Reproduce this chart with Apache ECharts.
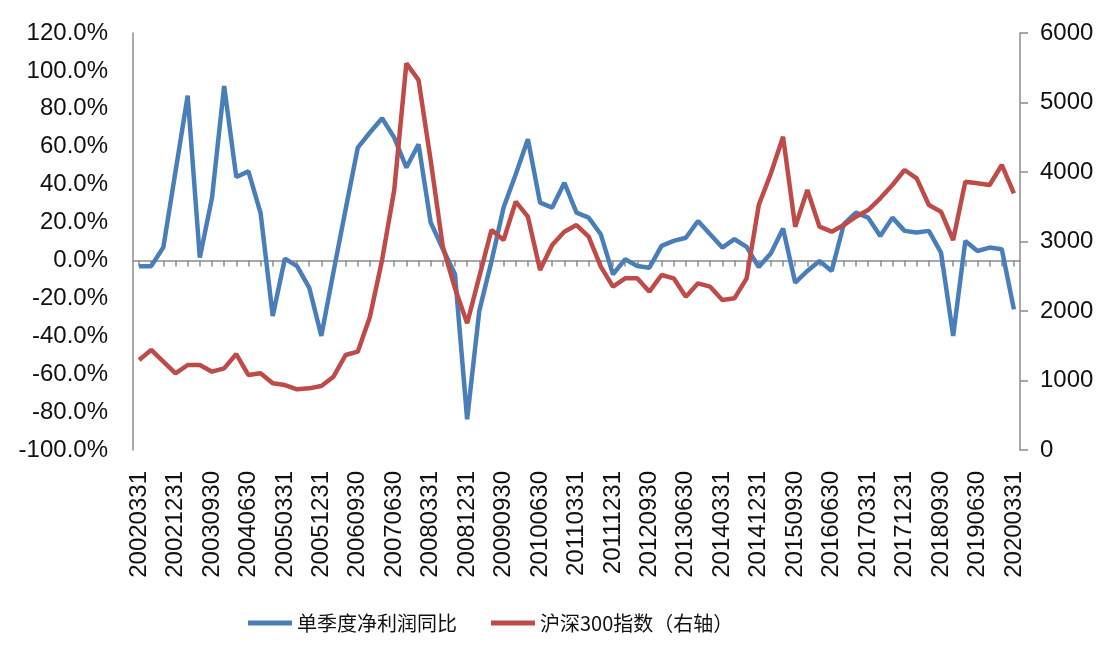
<!DOCTYPE html>
<html>
<head>
<meta charset="utf-8">
<script src="https://cdn.jsdelivr.net/npm/echarts@6/dist/echarts.min.js"></script>
<style>
html,body{margin:0;padding:0;background:#fff;}
#c{width:1113px;height:648px;}
</style>
</head>
<body>
<div id="c"></div>
<script>
const categories = [
 '20020331','20020630','20020930','20021231','20030331','20030630','20030930','20031231',
 '20040331','20040630','20040930','20041231','20050331','20050630','20050930','20051231',
 '20060331','20060630','20060930','20061231','20070331','20070630','20070930','20071231',
 '20080331','20080630','20080930','20081231','20090331','20090630','20090930','20091231',
 '20100331','20100630','20100930','20101231','20110331','20110630','20110930','20111231',
 '20120331','20120630','20120930','20121231','20130331','20130630','20130930','20131231',
 '20140331','20140630','20140930','20141231','20150331','20150630','20150930','20151231',
 '20160331','20160630','20160930','20161231','20170331','20170630','20170930','20171231',
 '20180331','20180630','20180930','20181231','20190331','20190630','20190930','20191231',
 '20200331'
];
// 单季度净利润同比 (%)
const profitYoY = [
 -3, -3, 7, 47, 87, 1.5, 33, 92, 44, 47, 25, -29.3,
 1, -3, -14.3, -39.8, -6, 27, 59.5, 67.5, 75, 64.8, 49, 61.3,
 20, 6, -7.3, -83.8, -26.6, -0.5, 27.9, 45.5, 64, 30.5, 27.9, 41,
 25.2, 22.6, 13.8, -7.3, 0.6, -2.9, -3.8, 7.7, 10.3, 12, 20.8, 13.8,
 6.8, 11.2, 7.2, -3.5, 3.8, 16.8, -11.7, -5.5, -0.3, -5.5, 19.1, 25.2,
 22.6, 12.9, 22.6, 15.6, 14.7, 15.6, 4.1, -39.8, 10.3, 5, 6.8, 5.9,
 -25.8
];
// 沪深300指数
const csi300 = [
 1295, 1439, 1271, 1103, 1223, 1223, 1127, 1175, 1381, 1079, 1103, 959,
 935, 873, 887, 921, 1055, 1367, 1415, 1918, 2734, 3741, 5564, 5324,
 4168, 2925, 2326, 1823, 2494, 3165, 3021, 3573, 3357, 2590, 2950, 3141,
 3237, 3070, 2638, 2350, 2470, 2470, 2278, 2518, 2470, 2206, 2398, 2350,
 2158, 2182, 2470, 3525, 3981, 4508, 3213, 3741, 3213, 3141, 3237, 3357,
 3453, 3621, 3813, 4029, 3909, 3525, 3429, 3021, 3861, 3837, 3813, 4101,
 3693
];
const seriesNames = ['单季度净利润同比', '沪深300指数（右轴）'];

const FONT = 'Arial, "Liberation Sans", "Noto Sans CJK SC", sans-serif';
const chart = echarts.init(document.getElementById('c'), null, {renderer: 'canvas'});
chart.setOption({
  animation: false,
  backgroundColor: '#ffffff',
  grid: {left: 133, right: 93, top: 33, bottom: 198, containLabel: false},
  legend: {
    data: seriesNames,
    left: 243,
    top: 608,
    itemWidth: 44,
    itemHeight: 5,
    itemGap: 34,
    icon: 'rect',
    textStyle: {fontFamily: '"Noto Sans CJK SC", sans-serif', fontSize: 20, color: '#111'}
  },
  xAxis: [
    {
      type: 'category',
      data: categories,
      boundaryGap: true,
      axisLine: {onZero: true, lineStyle: {color: '#8c8c8c', width: 1.5}},
      axisTick: {show: true, interval: 0, alignWithLabel: true, length: 6, lineStyle: {color: '#8c8c8c', width: 1.5}},
      axisLabel: {show: false},
      splitLine: {show: false}
    },
    {
      type: 'category',
      data: categories,
      boundaryGap: true,
      position: 'bottom',
      axisLine: {show: false, onZero: false},
      axisTick: {show: false},
      axisLabel: {show: true, interval: 2, rotate: 90, margin: 21, fontFamily: FONT, fontSize: 24, color: '#111'},
      splitLine: {show: false}
    }
  ],
  yAxis: [
    {
      type: 'value',
      min: -100, max: 120, interval: 20,
      axisLine: {show: true, lineStyle: {color: '#8c8c8c', width: 1.5}},
      axisTick: {show: false},
      splitLine: {show: false},
      axisLabel: {margin: 25, fontFamily: FONT, fontSize: 24, color: '#111',
        formatter: v => v.toFixed(1) + '%'}
    },
    {
      type: 'value',
      min: 0, max: 6000, interval: 1000,
      position: 'right',
      axisLine: {show: true, lineStyle: {color: '#8c8c8c', width: 1.5}},
      axisTick: {show: true, length: 8, lineStyle: {color: '#8c8c8c', width: 1.5}},
      splitLine: {show: false},
      axisLabel: {margin: 20, fontFamily: FONT, fontSize: 24, color: '#111',
        formatter: v => String(v)}
    }
  ],
  series: [
    {
      name: seriesNames[0], type: 'line', xAxisIndex: 0, yAxisIndex: 0,
      data: profitYoY, symbol: 'none', smooth: false,
      lineStyle: {color: '#4a7ebb', width: 4.5}, itemStyle: {color: '#4a7ebb'}
    },
    {
      name: seriesNames[1], type: 'line', xAxisIndex: 0, yAxisIndex: 1,
      data: csi300, symbol: 'none', smooth: false,
      lineStyle: {color: '#be4b48', width: 4.5}, itemStyle: {color: '#be4b48'}
    }
  ]
});
</script>
</body>
</html>
